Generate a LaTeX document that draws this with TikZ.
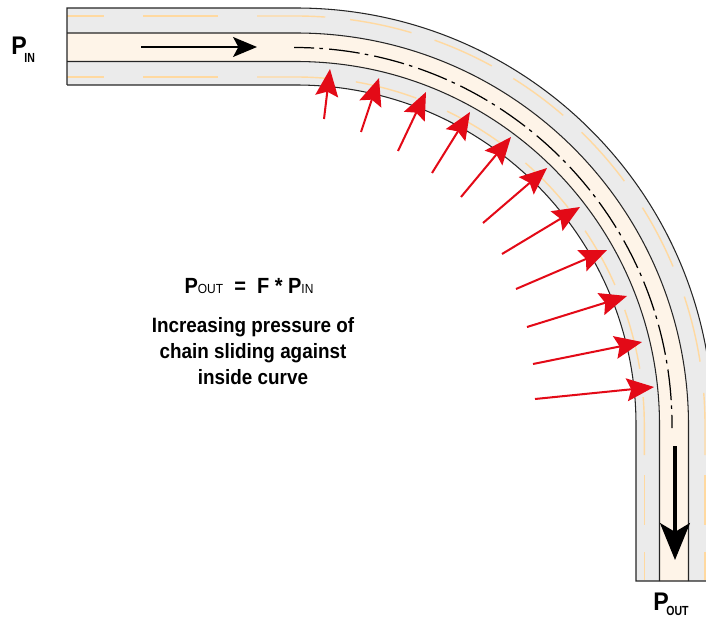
\documentclass[tikz,border=0pt]{standalone}
\usepackage{fontspec}
\newfontfamily\labelfont[FakeStretch=0.91]{Liberation Sans}
\newfontfamily\subfont[FakeStretch=0.8]{Liberation Sans}
\newcommand{\subtext}[2]{\kern-1.4pt\raisebox{#1}{\subfont\bfseries\fontsize{7.5}{9}\selectfont #2}}
\usetikzlibrary{arrows.meta}
\definecolor{bandgrey}{HTML}{EBEBEB}
\definecolor{trackcream}{HTML}{FEF4E8}
\definecolor{wearyellow}{HTML}{FFD9A0}
\definecolor{forcered}{HTML}{E30A17}

\begin{document}
\begin{tikzpicture}[
        x=0.02cm, y=0.02cm,
        outline/.style={draw=black!85, line width=0.6pt},
        wear/.style={wearyellow, line width=0.8pt},
        force/.style={-{Stealth[length=15.5pt, width=13pt, inset=2.5pt]}, forcered, line width=1.15pt},
        flowin/.style={-{Stealth[length=13.6pt, width=11.3pt, inset=3pt]}, line width=1.2pt},
        flowout/.style={-{Stealth[length=21pt, width=17pt, inset=5pt]}, line width=1.9pt},
        bigp/.style={font=\labelfont\bfseries\fontsize{14.5}{16}\selectfont, inner sep=0pt},
        note/.style={font=\labelfont\bfseries\fontsize{11.8}{15}\selectfont, align=center, inner sep=0pt}
    ]
    \clip (0,0) rectangle (706,616);

    % ---- Guide band and track ----
    \path[fill=bandgrey] (67,608) -- (296,608) arc[start angle=90, end angle=0, radius=417] -- (713,35)
        -- (636,35) -- (636,191) arc[start angle=0, end angle=90, radius=340] -- (67,531) -- cycle;
    \path[fill=trackcream] (67,583) -- (296,583) arc[start angle=90, end angle=0, radius=392.5] -- (688.5,35)
        -- (659.5,35) -- (659.5,191) arc[start angle=0, end angle=90, radius=363.5] -- (67,554.5) -- cycle;

    % Wear marks, straight parts
    \foreach \xa/\xb in {67/104, 143/218} {
        \draw[wear] (\xa,600) -- (\xb,600);
        \draw[wear] (\xa,539) -- (\xb,539);
    }
    \foreach \ya/\yb in {141/91, 64/36} {
        \draw[wear] (705,\ya) -- (705,\yb);
        \draw[wear] (644.3,\ya) -- (644.3,\yb);
    }
    % Wear marks, on the bend (degrees from the top)
    \draw[wear] (257,600) -- (296,600) arc[start angle=90, end angle=85.9, radius=409];
    \draw[wear] (257,539) -- (296,539) arc[start angle=90, end angle=85, radius=348.3];
    \foreach \a/\b in {7.6/16.4, 19.8/28.6, 32.1/40.8, 44.3/53.4, 57.9/67.2, 71.7/81.1} {
        \draw[wear] ([shift={(90-\a:409)}]296,191) arc[start angle=90-\a, end angle=90-\b, radius=409];
    }
    \foreach \a/\b in {9.9/20.2, 25.7/36.3, 41.2/51.4, 56.1/66.3, 70.7/80.7} {
        \draw[wear] ([shift={(90-\a:348.3)}]296,191) arc[start angle=90-\a, end angle=90-\b, radius=348.3];
    }
    \draw[wear] ([shift={(4.5:409)}]296,191) arc[start angle=4.5, end angle=0, radius=409] -- (705,161);
    \draw[wear] ([shift={(4.6:348.3)}]296,191) arc[start angle=4.6, end angle=0, radius=348.3] -- (644.3,161);

    % Outlines
    \draw[outline] (67,531) -- (67,608) -- (296,608) arc[start angle=90, end angle=0, radius=417];
    \draw[outline] (67,583) -- (296,583) arc[start angle=90, end angle=0, radius=392.5] -- (688.5,35);
    \draw[outline] (67,554.5) -- (296,554.5) arc[start angle=90, end angle=0, radius=363.5] -- (659.5,35);
    \draw[outline] (67,531) -- (296,531) arc[start angle=90, end angle=0, radius=340] -- (636,35) -- (706,35);

    % Centre line
    \draw[line width=0.7pt, dash pattern=on 17.5pt off 3pt on 2pt off 3.5pt, dash phase=6pt]
        (294,568.5) arc[start angle=90, end angle=0, radius=378] -- (672,188);

    % ---- Chain direction ----
    \coordinate (inA) at (141,569);
    \coordinate (inB) at (257,569);
    \coordinate (outA) at (675,170);
    \coordinate (outB) at (675,56);
    \draw[flowin] (inA) -- (inB);
    \draw[flowout] (outA) -- (outB);

    % ---- Pressure on inside curve ----
    \foreach \i/\tx/\ty/\hx/\hy in {
        1/324/497/330/547, 2/361/484/379/538, 3/398/465/426/524, 4/432/443/470/504,
        5/461/419/511/479, 6/483/393/547/448, 7/502/362/580/409, 8/516/327/607/366,
        9/527/289/627/320, 10/533/252/642/274, 11/535/217/654/229} {
        \coordinate (tail\i) at (\tx,\ty);
        \coordinate (tip\i) at (\hx,\hy);
        \draw[force] (tail\i) -- (tip\i);
    }

    % ---- Labels ----
    \node[bigp, anchor=base west] (pin) at (11,561) {P\subtext{-4.2pt}{IN}};
    \node[bigp, anchor=base west] (pout) at (653,6) {P\subtext{-3pt}{OUT}};
    \node[anchor=base, inner sep=0pt] (law) at (249,323)
        {\labelfont\fontsize{12.5}{15}\selectfont\bfseries P\fontsize{7.5}{9}\selectfont\mdseries OUT\fontsize{12.5}{15}\selectfont\bfseries\ \ =\ \ F * P\fontsize{7.5}{9}\selectfont\mdseries IN};
    \node[note] (caption) at (253,265) {Increasing pressure of\\chain sliding against\\inside curve};
\end{tikzpicture}
\end{document}
